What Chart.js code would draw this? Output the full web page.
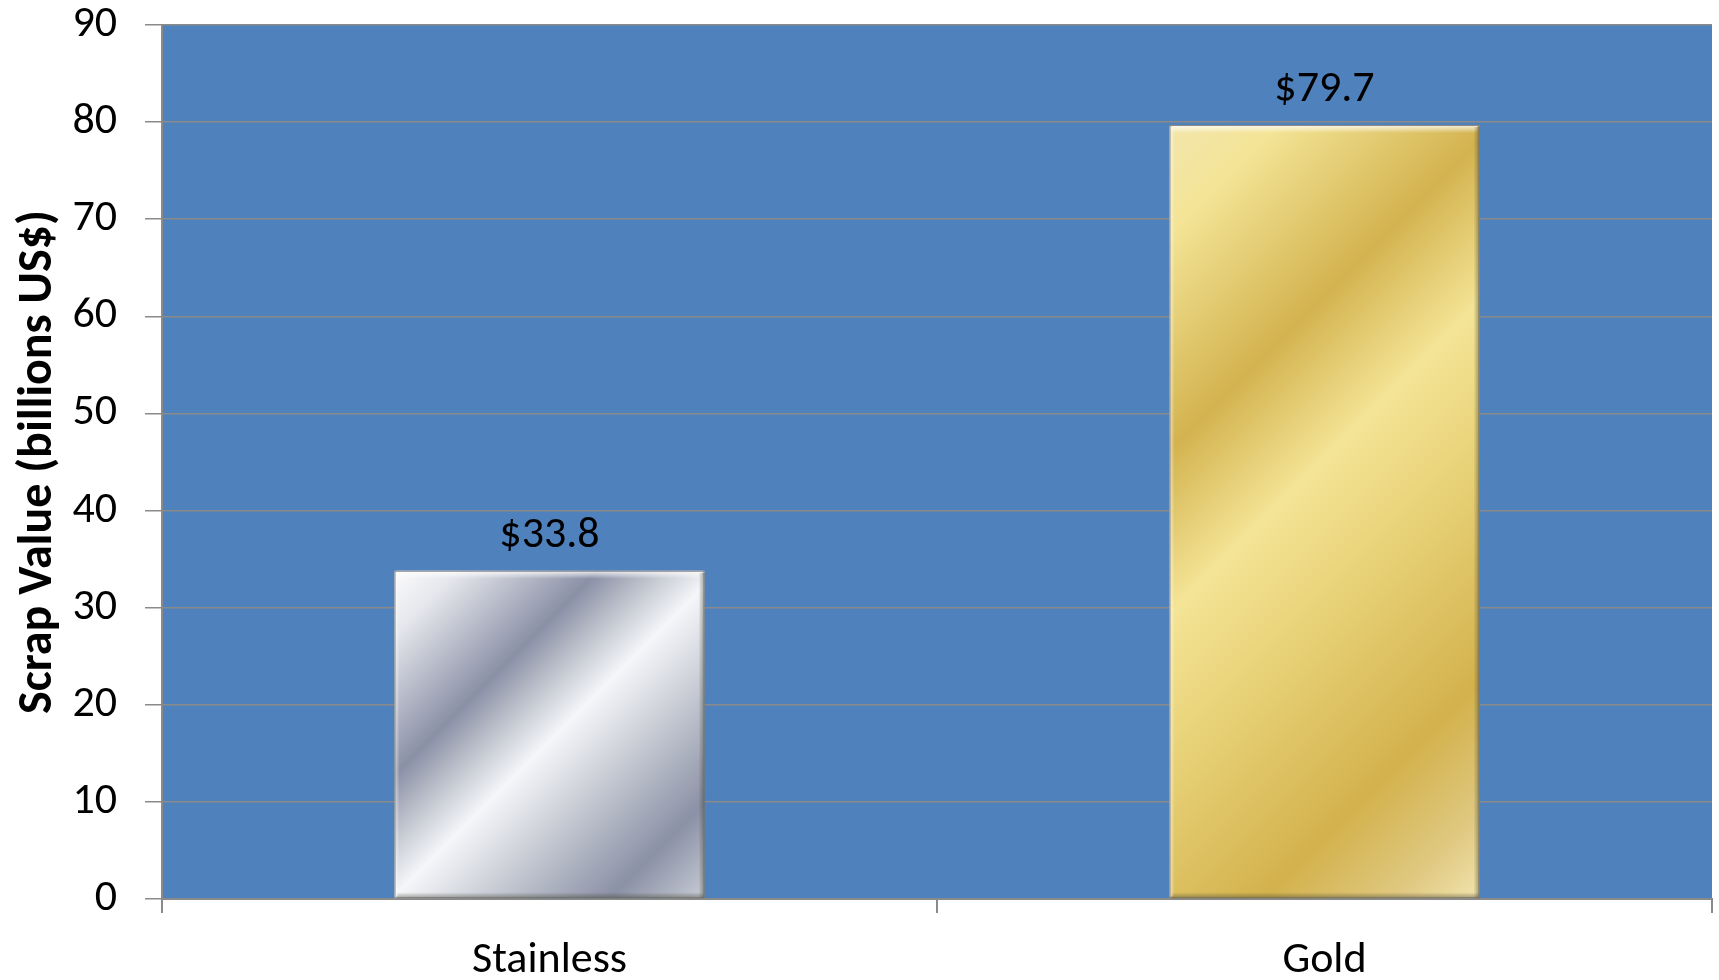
<!DOCTYPE html>
<html>
<head>
<meta charset="utf-8">
<script src="https://cdn.jsdelivr.net/npm/chart.js@4.4.1/dist/chart.umd.min.js"></script>
<style>
  html, body { margin: 0; padding: 0; background: #ffffff; }
  #wrap { width: 1719px; height: 980px; }
</style>
</head>
<body>
<div id="wrap"><canvas id="c" width="1719" height="980"></canvas></div>
<script>
// データ
const categories = ["Stainless", "Gold"];
const scrapValues = [33.8, 79.7];
const yTicks = [0, 10, 20, 30, 40, 50, 60, 70, 80, 90];

const FONT = "Carlito, Lato, sans-serif";
const PLOT_BG = "#4f81bd";
const GRID = "#8a8a8a";

// 各バーの金属風グラデーション (方向ベクトルと色の段階)
const barStyles = [
  {
    dir: [0.707, 0.707],
    stops: [[0, "#fbfbfd"], [0.1, "#e6e7ec"], [0.32, "#8a90a6"], [0.42, "#c4c8d1"],
            [0.51, "#f5f6f9"], [0.62, "#d3d6dd"], [0.85, "#8b91a6"], [1, "#c8ccd5"]]
  },
  {
    dir: [0.707, 0.707],
    stops: [[0, "#f3e6ac"], [0.1, "#f3e496"], [0.3, "#d3b34f"], [0.45, "#f4e496"],
            [0.56, "#ebd67e"], [0.8, "#d3b24d"], [0.92, "#dfc880"], [1, "#f2e4ad"]]
  }
];

// スケールからバーの矩形を求めてグラデーションを作る
function barGradient(context) {
  const chart = context.chart;
  const style = barStyles[context.dataIndex];
  if (!chart.chartArea) return style.stops[0][1];
  const xs = chart.scales.x, ys = chart.scales.y;
  const i = context.dataIndex;
  const cx = xs.getPixelForValue(i);
  const w = (xs.width / categories.length) * 0.4;
  const top = ys.getPixelForValue(scrapValues[i]);
  const h = ys.getPixelForValue(0) - top;
  const x0 = cx - w / 2;
  const [ux, uy] = style.dir;
  const L = w * ux + h * uy;
  const g = chart.ctx.createLinearGradient(x0, top, x0 + L * ux, top + L * uy);
  style.stops.forEach(([p, c]) => g.addColorStop(p, c));
  return g;
}

// プロット領域の背景
const plotBackground = {
  id: "plotBackground",
  beforeDraw(chart) {
    const { ctx, chartArea: a } = chart;
    ctx.save();
    ctx.fillStyle = PLOT_BG;
    ctx.fillRect(a.left, a.top, a.right - a.left, a.bottom - a.top);
    ctx.restore();
  }
};

// ベベル風の縁取りと値ラベル
const barDecor = {
  id: "barDecor",
  afterDatasetsDraw(chart) {
    const { ctx } = chart;
    const meta = chart.getDatasetMeta(0);
    ctx.save();
    meta.data.forEach((bar, i) => {
      const left = bar.x - bar.width / 2, right = bar.x + bar.width / 2;
      const top = bar.y, bottom = bar.base;
      // 上辺のハイライト
      let g = ctx.createLinearGradient(0, top, 0, top + 8);
      g.addColorStop(0, "rgba(255,255,255,0.85)");
      g.addColorStop(1, "rgba(255,255,255,0)");
      ctx.fillStyle = g;
      ctx.fillRect(left + 2, top, right - left - 4, 8);
      // 右辺の影
      g = ctx.createLinearGradient(right - 6, 0, right, 0);
      g.addColorStop(0, "rgba(60,60,40,0)");
      g.addColorStop(1, "rgba(60,60,40,0.45)");
      ctx.fillStyle = g;
      ctx.fillRect(right - 6, top + 2, 6, bottom - top - 2);
      // 下辺の影
      g = ctx.createLinearGradient(0, bottom - 6, 0, bottom);
      g.addColorStop(0, "rgba(60,60,40,0)");
      g.addColorStop(1, "rgba(60,60,40,0.45)");
      ctx.fillStyle = g;
      ctx.fillRect(left + 2, bottom - 6, right - left - 2, 6);
      // 左辺のハイライト
      g = ctx.createLinearGradient(left, 0, left + 5, 0);
      g.addColorStop(0, "rgba(255,255,255,0.6)");
      g.addColorStop(1, "rgba(255,255,255,0)");
      ctx.fillStyle = g;
      ctx.fillRect(left, top + 2, 5, bottom - top - 4);
      ctx.strokeStyle = "rgba(110,110,110,0.8)";
      ctx.lineWidth = 1;
      ctx.strokeRect(left + 0.5, top + 0.5, right - left - 1, bottom - top - 1);

      // 値ラベル
      ctx.fillStyle = "#000000";
      ctx.font = "44px " + FONT;
      ctx.textAlign = "center";
      ctx.textBaseline = "alphabetic";
      ctx.fillText("$" + scrapValues[i].toFixed(1), bar.x, top - 24);
    });
    ctx.restore();
  }
};

new Chart(document.getElementById("c"), {
  type: "bar",
  data: {
    labels: categories,
    datasets: [{
      data: scrapValues,
      backgroundColor: barGradient,
      borderWidth: 0,
      categoryPercentage: 1.0,
      barPercentage: 0.4
    }]
  },
  options: {
    responsive: false,
    animation: false,
    devicePixelRatio: 1,
    layout: { padding: { top: 25, right: 7, left: 0, bottom: 0 } },
    plugins: {
      legend: { display: false },
      tooltip: { enabled: false }
    },
    scales: {
      x: {
        grid: {
          offset: true,
          drawOnChartArea: false,
          drawTicks: true,
          tickLength: 14,
          color: GRID,
          lineWidth: 2
        },
        border: { color: GRID, width: 2 },
        ticks: {
          color: "#000000",
          padding: 22,
          font: { family: FONT, size: 44 }
        },
        afterFit(scale) {
          scale.height = 81;
          scale.paddingLeft = 0;
          scale.paddingRight = 0;
        }
      },
      y: {
        min: 0,
        max: 90,
        afterBuildTicks(scale) { scale.ticks = yTicks.map(v => ({ value: v })); },
        grid: {
          color: GRID,
          lineWidth: 1.5,
          drawTicks: true,
          tickLength: 17
        },
        border: { color: GRID, width: 2 },
        ticks: {
          color: "#000000",
          padding: 28,
          font: { family: FONT, size: 44 }
        },
        title: {
          display: true,
          text: "Scrap Value (billions US$)",
          color: "#000000",
          padding: { top: 10, bottom: 0 },
          font: { family: FONT, size: 48, weight: "bold" }
        },
        afterFit(scale) {
          scale.width = 162;
          scale.paddingTop = 0;
          scale.paddingBottom = 0;
        }
      }
    }
  },
  plugins: [plotBackground, barDecor]
});
</script>
</body>
</html>
